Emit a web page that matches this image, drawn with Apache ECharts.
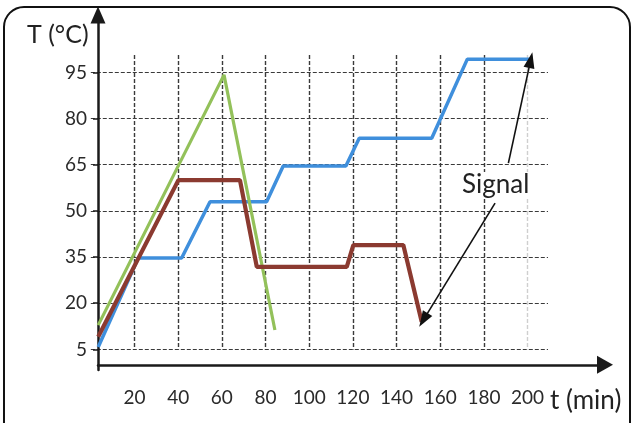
<!DOCTYPE html>
<html>
<head>
<meta charset="utf-8">
<title>T (°C) vs t (min)</title>
<script src="https://cdn.jsdelivr.net/npm/echarts@6/dist/echarts.min.js"></script>
<style>
    html, body { margin: 0; padding: 0; background: #fff; }
    #chart { width: 633px; height: 423px; }
</style>
</head>
<body>
<div id="chart"></div>
<script>
// values (t in min, T in °C)
const blueTime = [3.4, 21.7, 41.6, 54.6, 80.5, 88.1, 116.8, 122.9, 156.1, 172.4, 201];
const blueTemp = [5.8, 34.7, 34.7, 53, 53, 64.6, 64.6, 73.6, 73.6, 99.3, 99.3];
const brownTime = [3.4, 40.1, 68.3, 76, 117.2, 120.2, 143.1, 151.5];
const brownTemp = [9.1, 60, 60, 31.8, 31.8, 38.9, 38.9, 14];
const greenTime = [3.4, 61, 84.3];
const greenTemp = [12.9, 94.2, 11.3];

const xTicks = [20, 40, 60, 80, 100, 120, 140, 160, 180, 200];
const yTicks = [5, 20, 35, 50, 65, 80, 95];

// pixel scale of the picture: x = X0 + XS * t, y = Y0 - YS * T
const X0 = 90.8, XS = 2.184, Y0 = 364.8, YS = 3.078;
const W = 633, H = 423;
// axis lines (with arrows) and the dashed grid span different boxes
const axisBox = { left: 98, right: 605, top: 15, bottom: 370 };
const gridBox = { left: X0, right: 548, top: 55, bottom: Y0 - YS * yTicks[0] };

function pairs(xs, ys) {
    return xs.map(function (x, i) { return [x, ys[i]]; });
}
const toT = function (px) { return (px - X0) / XS; };
const toV = function (py) { return (Y0 - py) / YS; };

const chart = echarts.init(document.getElementById('chart'));
const font = 'Lato';
const dark = '#3a3a3a';
// vertical lines: 20..180 dark, the 200 one faded, none at the right edge
const vColors = xTicks.map(function (t) { return t === 200 ? '#cfcfcf' : dark; });
vColors.push('rgba(0,0,0,0)');

const option = {
    animation: false,
    backgroundColor: '#fff',
    grid: [
        { left: axisBox.left, right: W - axisBox.right, top: axisBox.top, bottom: H - axisBox.bottom },
        { left: gridBox.left, right: W - gridBox.right, top: gridBox.top, bottom: H - gridBox.bottom }
    ],
    xAxis: [
        {
            gridIndex: 0, type: 'value',
            min: toT(axisBox.left), max: toT(axisBox.right),
            axisLine: { show: true, lineStyle: { color: '#1a1a1a', width: 2.5 },
                symbol: ['none', 'triangle'], symbolSize: [18, 16] },
            axisTick: { show: false }, axisLabel: { show: false }, splitLine: { show: false }
        },
        {
            gridIndex: 1, type: 'value',
            min: 0, max: toT(gridBox.right), interval: 20,
            axisLine: { show: false }, axisTick: { show: false },
            axisLabel: { show: true, margin: 39, customValues: xTicks,
                fontFamily: font, fontSize: 19, color: '#2a2a2a' },
            splitLine: { show: true, showMinLine: false,
                lineStyle: { type: [4, 2], width: 1.4, color: vColors } }
        }
    ],
    yAxis: [
        {
            gridIndex: 0, type: 'value',
            min: toV(axisBox.bottom), max: toV(axisBox.top),
            axisLine: { show: true, lineStyle: { color: '#1a1a1a', width: 2.5 },
                symbol: ['none', 'triangle'], symbolSize: [15, 17] },
            axisTick: { show: false }, axisLabel: { show: false }, splitLine: { show: false }
        },
        {
            gridIndex: 1, type: 'value',
            min: yTicks[0], max: toV(gridBox.top), interval: 15,
            offset: gridBox.left - axisBox.left,
            axisLine: { show: false },
            axisTick: { show: true, length: 5, customValues: yTicks,
                lineStyle: { color: '#1a1a1a', width: 1.5 } },
            axisLabel: { show: true, margin: 11, customValues: yTicks,
                fontFamily: font, fontSize: 19, color: '#2a2a2a' },
            splitLine: { show: true, lineStyle: { type: [4, 2], color: dark, width: 1.2 } }
        }
    ],
    series: [
        {
            name: 'blue', type: 'line', xAxisIndex: 0, yAxisIndex: 0,
            data: pairs(blueTime, blueTemp), symbol: 'none', clip: false,
            lineStyle: { color: '#3f8fdc', width: 3.5 },
            markLine: {
                silent: true, animation: false,
                symbol: ['none', 'triangle'], symbolSize: [11, 16],
                label: { show: false },
                lineStyle: { color: '#111', width: 1.6, type: 'solid' },
                data: [
                    [{ coord: [191.2, 65.5] }, { coord: [201.4, 99] }],
                    [{ coord: [185.1, 52.5] }, { coord: [152.3, 14.6] }]
                ]
            }
        },
        {
            name: 'green', type: 'line', xAxisIndex: 0, yAxisIndex: 0,
            data: pairs(greenTime, greenTemp), symbol: 'none', clip: false,
            lineStyle: { color: '#93c15a', width: 3.2 }
        },
        {
            name: 'brown', type: 'line', xAxisIndex: 0, yAxisIndex: 0,
            data: pairs(brownTime, brownTemp), symbol: 'none', clip: false,
            lineStyle: { color: '#8b3a30', width: 4.2 }
        }
    ],
    graphic: [
        {
            type: 'rect', silent: true, z: 100,
            shape: { x: 4, y: 7, width: 626, height: 450, r: 20 },
            style: { fill: 'none', stroke: '#111', lineWidth: 2 }
        },
        {
            type: 'text', left: 27, top: 22, z: 100,
            style: { text: 'T (°C)', font: '25px Lato', fill: '#222' }
        },
        {
            type: 'text', left: 550, top: 388, z: 100,
            style: { text: 't (min)', font: '26px Lato', fill: '#222' }
        },
        {
            type: 'text', left: 460, top: 172, z: 100,
            style: { text: 'Signal', font: '26px Lato', fill: '#222',
                backgroundColor: '#fff', padding: [0, 2] }
        }
    ]
};

chart.setOption(option);
</script>
</body>
</html>
